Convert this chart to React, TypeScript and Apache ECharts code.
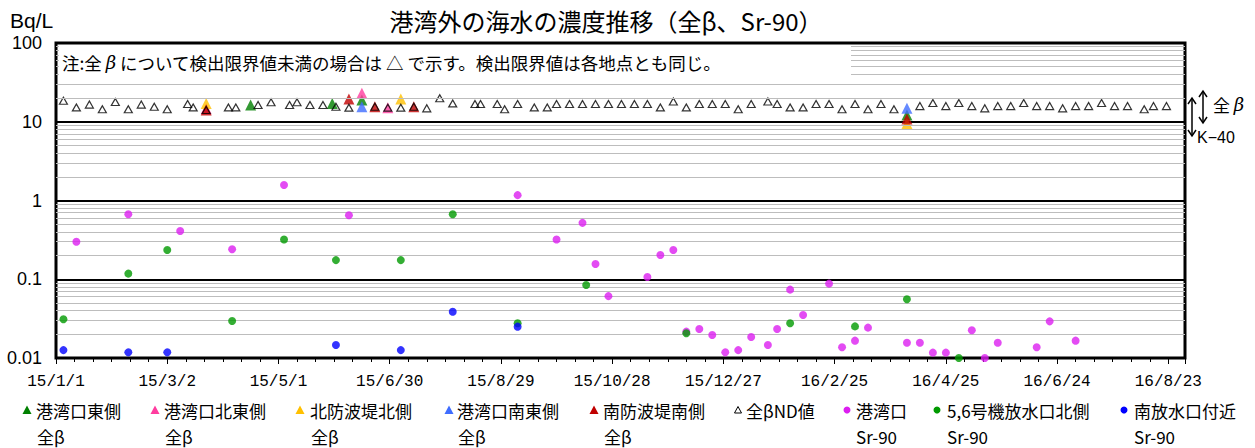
import React, { useEffect, useRef } from 'react';
import * as echarts from 'echarts';

// ---------- data (date, Bq/L) ----------
const betaNames = ['港湾口東側', '港湾口北東側', '北防波堤北側', '港湾口南東側', '南防波堤南側'];
const ndName = '全βND値';
const srNames = ['港湾口', '5,6号機放水口北側', '南放水口付近'];
const yTickLabels = ['0.01', '0.1', '1', '10', '100'];

const betaHarborEast: [string, number][] = [
  ['2015-04-16', 16.3], ['2015-05-30', 17.1], ['2015-06-15', 18.9], ['2016-04-04', 12.2],
];
const betaHarborNorthEast: [string, number][] = [
  ['2015-03-23', 14.6], ['2015-06-15', 23.0], ['2015-06-29', 15.1],
];
const betaNorthBreakwater: [string, number][] = [
  ['2015-03-23', 17.1], ['2015-07-06', 19.5], ['2016-04-04', 9.5],
];
const betaHarborSouthEast: [string, number][] = [
  ['2015-06-15', 15.5], ['2016-04-04', 14.8],
];
const betaSouthBreakwater: [string, number][] = [
  ['2015-03-23', 14.1], ['2015-06-08', 19.5], ['2015-06-22', 15.5], ['2015-07-13', 15.5], ['2016-04-04', 10.8],
];
const betaND: [string, number][] = [
  ['2015-01-05', 18.5], ['2015-01-12', 15.2], ['2015-01-19', 16.5], ['2015-01-26', 14.4], ['2015-02-02', 17.8],
  ['2015-02-09', 14.4], ['2015-02-16', 16.5], ['2015-02-23', 15.5], ['2015-03-02', 14.4], ['2015-03-13', 16.8],
  ['2015-03-16', 15.2], ['2015-03-23', 14.1], ['2015-04-04', 15.2], ['2015-04-08', 15.2], ['2015-04-20', 16.3],
  ['2015-04-27', 17.7], ['2015-05-07', 16.3], ['2015-05-11', 17.7], ['2015-05-18', 16.3], ['2015-05-25', 16.3],
  ['2015-06-01', 15.5], ['2015-06-08', 15.1], ['2015-06-22', 15.5], ['2015-06-29', 15.1], ['2015-07-06', 15.1],
  ['2015-07-13', 15.5], ['2015-07-20', 14.8], ['2015-07-27', 19.9], ['2015-08-03', 17.1], ['2015-08-15', 16.8],
  ['2015-08-18', 16.8], ['2015-08-27', 16.8], ['2015-08-31', 14.4], ['2015-09-07', 16.8], ['2015-09-16', 15.2],
  ['2015-09-23', 15.2], ['2015-09-28', 16.8], ['2015-10-05', 16.8], ['2015-10-12', 16.8], ['2015-10-19', 16.8],
  ['2015-10-26', 16.8], ['2015-11-02', 16.8], ['2015-11-09', 16.8], ['2015-11-16', 16.8], ['2015-11-23', 15.2],
  ['2015-11-30', 18.1], ['2015-12-07', 15.2], ['2015-12-14', 16.8], ['2015-12-21', 16.8], ['2015-12-28', 16.8],
  ['2016-01-04', 14.4], ['2016-01-11', 16.8], ['2016-01-20', 18.1], ['2016-01-25', 16.8], ['2016-02-01', 15.2],
  ['2016-02-08', 15.2], ['2016-02-15', 16.8], ['2016-02-22', 16.8], ['2016-02-29', 14.4], ['2016-03-07', 16.8],
  ['2016-03-14', 14.4], ['2016-03-21', 16.8], ['2016-03-28', 14.4], ['2016-04-11', 15.8], ['2016-04-18', 17.3],
  ['2016-04-25', 15.8], ['2016-05-02', 17.3], ['2016-05-09', 15.8], ['2016-05-16', 14.8], ['2016-05-23', 15.8],
  ['2016-05-30', 15.8], ['2016-06-06', 17.3], ['2016-06-13', 15.8], ['2016-06-20', 15.8], ['2016-06-27', 14.8],
  ['2016-07-04', 15.8], ['2016-07-11', 15.8], ['2016-07-18', 17.3], ['2016-07-25', 15.8], ['2016-08-01', 15.8],
  ['2016-08-10', 14.4], ['2016-08-15', 15.8], ['2016-08-22', 15.8],
];
const srHarbor: [string, number][] = [
  ['2015-01-12', 0.30], ['2015-02-09', 0.67], ['2015-03-09', 0.41], ['2015-04-06', 0.24], ['2015-05-04', 1.57],
  ['2015-06-08', 0.65], ['2015-09-07', 1.17], ['2015-09-28', 0.32], ['2015-10-12', 0.52], ['2015-10-19', 0.156],
  ['2015-10-26', 0.061], ['2015-11-16', 0.107], ['2015-11-23', 0.203], ['2015-11-30', 0.235], ['2015-12-07', 0.0216],
  ['2015-12-14', 0.0233], ['2015-12-21', 0.0196], ['2015-12-28', 0.0118], ['2016-01-04', 0.0126], ['2016-01-11', 0.0185],
  ['2016-01-20', 0.0146], ['2016-01-25', 0.0233], ['2016-02-01', 0.0738], ['2016-02-08', 0.0352], ['2016-02-22', 0.088],
  ['2016-02-29', 0.0137], ['2016-03-07', 0.0166], ['2016-03-14', 0.0243], ['2016-04-04', 0.0156], ['2016-04-11', 0.0156],
  ['2016-04-18', 0.0117], ['2016-04-25', 0.0117], ['2016-05-09', 0.0225], ['2016-05-16', 0.01], ['2016-05-23', 0.0156],
  ['2016-06-13', 0.0137], ['2016-06-20', 0.0292], ['2016-07-04', 0.0166],
];
const srUnit56North: [string, number][] = [
  ['2015-01-05', 0.031], ['2015-02-09', 0.118], ['2015-03-02', 0.235], ['2015-04-06', 0.0295], ['2015-05-04', 0.32],
  ['2015-06-01', 0.175], ['2015-07-06', 0.175], ['2015-08-03', 0.67], ['2015-09-07', 0.0276], ['2015-10-14', 0.0845],
  ['2015-12-07', 0.0206], ['2016-02-01', 0.0276], ['2016-03-07', 0.0252], ['2016-04-04', 0.0556], ['2016-05-02', 0.01],
];
const srSouthOutlet: [string, number][] = [
  ['2015-01-05', 0.0126], ['2015-02-09', 0.0118], ['2015-03-02', 0.0118], ['2015-06-01', 0.0146],
  ['2015-07-06', 0.0126], ['2015-08-03', 0.0387], ['2015-09-07', 0.025],
];

// ---------- styles ----------
const betaColors = ['#008000', '#ff3c9f', '#ffc000', '#3f6dff', '#c00000'];
const srColors = ['#dc1ef0', '#009a00', '#0000ff'];
const CJK = '"Noto Sans CJK JP", sans-serif';

const BASE = Date.UTC(2015, 0, 1);
const DAY = 86400000;
const toDay = (s: string) => Math.round((Date.parse(s + 'T00:00:00Z') - BASE) / DAY);
const pts = (arr: [string, number][]) => arr.map(([d, v]) => [toDay(d), v]);
const fmtDay = (d: number) => {
  const dt = new Date(BASE + d * DAY);
  return `${String(dt.getUTCFullYear()).slice(2)}/${dt.getUTCMonth() + 1}/${dt.getUTCDate()}`;
};

const minorGrid: number[] = [];
for (let e = -2; e <= 1; e++) for (let k = 2; k <= 9; k++) minorGrid.push(Number((k * Math.pow(10, e)).toPrecision(2)));

const betaSeriesData = [betaHarborEast, betaHarborNorthEast, betaNorthBreakwater, betaHarborSouthEast, betaSouthBreakwater];
const srSeriesData = [srHarbor, srUnit56North, srSouthOutlet];

// legend layout (marker x, text x)
const betaLegendPos = [[27, 36], [155, 164], [300, 310], [449, 457], [594, 603]];
const ndLegendPos = [738, 746];
const srLegendPos = [[847, 856], [937, 947], [1124, 1134]];
const LY1 = 410, LY2 = 436;

function buildOption() {
  const series: any[] = [];
  series.push({
    type: 'scatter', data: [], z: 1, silent: true,
    markLine: {
      silent: true, symbol: ['none', 'none'], label: { show: false }, emphasis: { disabled: true },
      lineStyle: { color: '#bdbdbd', width: 1, type: 'solid' },
      data: minorGrid.map((v) => ({ yAxis: v })),
    },
  });
  betaSeriesData.forEach((arr, i) => {
    series.push({
      type: 'scatter', name: betaNames[i], data: pts(arr), symbol: 'triangle', symbolSize: [11, 11],
      itemStyle: { color: betaColors[i] }, z: 3, clip: false,
    });
  });
  series.push({
    type: 'scatter', name: ndName, data: pts(betaND), symbol: 'triangle', symbolSize: [8, 7],
    itemStyle: { color: 'rgba(0,0,0,0)', borderColor: '#000', borderWidth: 1.2 }, z: 4, clip: false,
  });
  srSeriesData.forEach((arr, i) => {
    series.push({
      type: 'scatter', name: srNames[i], data: pts(arr), symbol: 'circle', symbolSize: 8,
      itemStyle: { color: srColors[i] }, z: 5, clip: false,
    });
  });

  const graphic: any[] = [];
  // title & unit
  graphic.push({ type: 'text', x: 606, y: 20, z: 20, style: { text: '港湾外の海水の濃度推移（全β、Sr-90）', fontFamily: CJK, fontSize: 24, fill: '#000', align: 'center', verticalAlign: 'middle' } });
  graphic.push({ type: 'text', x: 10, y: 20, z: 20, style: { text: 'Bq/L', fontFamily: 'Liberation Sans, Arial', fontSize: 21, fill: '#000', align: 'left', verticalAlign: 'middle' } });
  // note box
  graphic.push({ type: 'rect', z: 10, shape: { x: 59, y: 45, width: 792, height: 33 }, style: { fill: '#fff' } });
  graphic.push({
    type: 'text', x: 62, y: 62, z: 11,
    style: {
      text: '{a|注:全 }{b|β}{a| について検出限界値未満の場合は △ で示す。検出限界値は各地点とも同じ。}',
      fill: '#000', align: 'left', verticalAlign: 'middle',
      rich: {
        a: { fontFamily: CJK, fontSize: 17.5, fill: '#000' },
        b: { fontFamily: 'DejaVu Serif, serif', fontStyle: 'italic', fontSize: 18, fill: '#000' },
      },
    },
  });
  // right annotation: arrows
  const arrow = (x: number, y1: number, y2: number) => {
    graphic.push({ type: 'line', z: 20, shape: { x1: x, y1, x2: x, y2 }, style: { stroke: '#000', lineWidth: 1.5 } });
    graphic.push({ type: 'polyline', z: 20, shape: { points: [[x - 4, y1 + 6], [x, y1], [x + 4, y1 + 6]] }, style: { stroke: '#000', lineWidth: 1.5, fill: 'none' } });
    graphic.push({ type: 'polyline', z: 20, shape: { points: [[x - 4, y2 - 6], [x, y2], [x + 4, y2 - 6]] }, style: { stroke: '#000', lineWidth: 1.5, fill: 'none' } });
  };
  arrow(1192, 98, 136);
  arrow(1203, 91, 123);
  graphic.push({
    type: 'text', x: 1213, y: 104, z: 20,
    style: {
      text: '{a|全 }{b|β}', align: 'left', verticalAlign: 'middle',
      rich: { a: { fontFamily: CJK, fontSize: 17, fill: '#000' }, b: { fontFamily: 'DejaVu Serif, serif', fontStyle: 'italic', fontSize: 18, fill: '#000' } },
    },
  });
  graphic.push({ type: 'text', x: 1197, y: 137, z: 20, style: { text: 'K−40', fontFamily: 'Liberation Sans, Arial', fontSize: 16, fill: '#000', align: 'left', verticalAlign: 'middle' } });

  // legend
  const legendText = (x: number, y: number, t: string) =>
    graphic.push({ type: 'text', x, y, z: 20, style: { text: t, fontFamily: CJK, fontSize: 17, fill: '#000', align: 'left', verticalAlign: 'middle' } });
  betaNames.forEach((n, i) => {
    const [mx, tx] = betaLegendPos[i];
    graphic.push({ type: 'polygon', z: 20, shape: { points: [[mx - 4.5, LY1 + 4], [mx + 4.5, LY1 + 4], [mx, LY1 - 4.5]] }, style: { fill: betaColors[i] } });
    legendText(tx, LY1, n);
    legendText(tx + 1, LY2, '全β');
  });
  graphic.push({ type: 'polygon', z: 20, shape: { points: [[ndLegendPos[0] - 3.5, LY1 + 3], [ndLegendPos[0] + 3.5, LY1 + 3], [ndLegendPos[0], LY1 - 3.5]] }, style: { fill: 'none', stroke: '#000', lineWidth: 1 } });
  legendText(ndLegendPos[1], LY1, ndName);
  srNames.forEach((n, i) => {
    const [mx, tx] = srLegendPos[i];
    graphic.push({ type: 'circle', z: 20, shape: { cx: mx, cy: LY1, r: 3.5 }, style: { fill: srColors[i] } });
    legendText(tx, LY1, n);
    legendText(tx, LY2, 'Sr-90');
  });

  return {
    animation: false,
    grid: { left: 56, top: 43, right: 70, bottom: 90, show: true, borderColor: '#000', borderWidth: 3, backgroundColor: 'transparent' },
    xAxis: {
      type: 'value', min: 0, max: 609, interval: 60,
      axisLine: { show: false },
      axisTick: { show: true, length: 6, lineStyle: { color: '#000', width: 1 } },
      minorTick: { show: true, splitNumber: 6, length: 4, lineStyle: { color: '#000', width: 1 } },
      splitLine: { show: false },
      axisLabel: {
        showMaxLabel: false, margin: 16, color: '#000', fontFamily: 'Liberation Mono, monospace', fontSize: 16,
        formatter: (v: number) => fmtDay(v),
      },
    },
    yAxis: {
      type: 'log', logBase: 10, min: 0.01, max: 100,
      axisLine: { show: false }, axisTick: { show: false },
      splitLine: { show: true, lineStyle: { color: '#000', width: 2 } },
      axisLabel: {
        margin: 14, color: '#000', fontFamily: 'Liberation Sans, Arial', fontSize: 18,
        formatter: (v: number) => {
          const idx = Math.round(Math.log10(v)) + 2;
          return yTickLabels[idx] ?? '';
        },
      },
    },
    series,
    graphic,
  };
}

export default function App() {
  const ref = useRef<HTMLDivElement>(null);
  useEffect(() => {
    document.body.style.margin = '0';
    const chart = echarts.init(ref.current as HTMLDivElement, null, { renderer: 'svg' });
    chart.setOption(buildOption() as any);
    return () => chart.dispose();
  }, []);
  return <div ref={ref} style={{ width: 1255, height: 448 }} />;
}
